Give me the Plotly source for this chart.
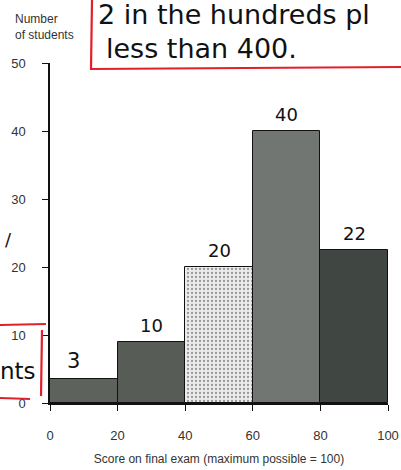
import plotly.graph_objects as go

bin_starts = [0, 20, 40, 60, 80]
bin_width = 20
counts = [3.5, 9, 20, 40, 22.5]
handwritten_labels = ["3", "10", "20", "40", "22"]
bar_colors = ["#5d625d", "#575c57", "#ececec", "#727672", "#404742"]
bar_patterns = ["", "", ".", "", ""]
x_ticks = [0, 20, 40, 60, 80, 100]
y_ticks = [0, 10, 20, 30, 40, 50]

centers = [s + bin_width / 2 for s in bin_starts]

fig = go.Figure()
fig.add_trace(go.Bar(
    x=centers, y=counts, width=[bin_width] * len(counts),
    marker=dict(color=bar_colors, line=dict(color="#111", width=1),
                pattern=dict(shape=bar_patterns, fgcolor="#777", size=4, solidity=0.25)),
    showlegend=False, hoverinfo="skip"))

for c, v, lab in zip(centers, counts, handwritten_labels):
    fig.add_annotation(x=c - (3 if lab == "3" else 0), y=v, text=lab, showarrow=False,
                       yanchor="bottom", yshift=4,
                       font=dict(family="DejaVu Sans", size=21 if lab == "3" else 18, color="#111"))

W, H = 401, 470
L, R, T, B = 50, 13, 63, 67
pw, ph = W - L - R, H - T - B

def px(x):
    return (x - L) / pw

def py(y):
    return (H - B - y) / ph

tickfont = dict(family="Liberation Sans Narrow, Arial Narrow, Liberation Sans", size=13, color="#333")
fig.update_layout(
    width=W, height=H,
    margin=dict(l=L, r=R, t=T, b=B, autoexpand=False),
    plot_bgcolor="white", paper_bgcolor="white",
    bargap=0,
    xaxis=dict(range=[0, 100], tickvals=x_ticks, ticks="outside", ticklen=6, tickcolor="#111",
               showline=True, linecolor="#111", linewidth=1.5, showgrid=False, zeroline=False,
               automargin=False, ticklabelstandoff=14, tickfont=tickfont,
               title=dict(text="Score on final exam (maximum possible = 100)", standoff=12,
                          font=dict(family="Liberation Sans Narrow, Liberation Sans", size=12, color="#333"))),
    yaxis=dict(range=[0, 50], tickvals=y_ticks, ticks="outside", ticklen=6, tickcolor="#111",
               showline=True, linecolor="#111", linewidth=1.5, showgrid=False, zeroline=False,
               automargin=False, ticklabelstandoff=14, tickfont=tickfont),
)

fig.add_annotation(xref="paper", yref="paper", x=px(13), y=py(10), xanchor="left", yanchor="top",
                   text="Number<br>of students", showarrow=False, align="left",
                   font=dict(family="Liberation Sans Narrow, Liberation Sans", size=12, color="#333"))

red = "#e0202a"
fig.add_shape(type="path", xref="paper", yref="paper",
              path=f"M {px(92)} {py(0)} L {px(91)} {py(69)} L {px(401)} {py(67)}",
              line=dict(color=red, width=2.2))
fig.add_shape(type="path", xref="paper", yref="paper",
              path=f"M {px(0)} {py(325)} L {px(46)} {py(324)} M {px(42)} {py(330)} L {px(41)} {py(396)} M {px(0)} {py(398)} L {px(30)} {py(399)}",
              line=dict(color=red, width=2.2))

hand = dict(family="DejaVu Sans", size=27, color="#111")
fig.add_annotation(xref="paper", yref="paper", x=px(96), y=py(14), xanchor="left", yanchor="middle",
                   text="2 in the hundreds pl", showarrow=False, font=hand)
fig.add_annotation(xref="paper", yref="paper", x=px(104), y=py(49), xanchor="left", yanchor="middle",
                   text="less than 400.", showarrow=False, font=hand)
fig.add_annotation(xref="paper", yref="paper", x=px(-2), y=py(371), xanchor="left", yanchor="middle",
                   text="nts", showarrow=False, font=dict(family="DejaVu Sans", size=23, color="#111"))
fig.add_annotation(xref="paper", yref="paper", x=px(8), y=py(240), xanchor="center", yanchor="middle",
                   text="/", showarrow=False, font=dict(family="DejaVu Sans", size=18, color="#111"))

fig.write_html("out.html", config={"displayModeBar": False},
               post_script="document.body.style.margin='0';document.body.style.overflow='hidden';")
